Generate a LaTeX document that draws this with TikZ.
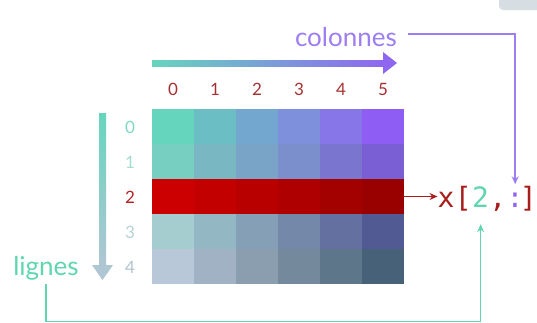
\documentclass[tikz,border=0pt]{standalone}
\usepackage{fontspec}
\setmainfont{Lato}
\newfontfamily\monof{DejaVu Sans Mono}
\usetikzlibrary{arrows.meta}
\definecolor{mint}{HTML}{66D5BE}
\definecolor{apurple}{HTML}{8E66F0}
\definecolor{lpurple}{HTML}{9D7DF2}
\definecolor{lmint}{HTML}{5FD6B0}
\definecolor{gblue}{HTML}{AFC6D3}
\definecolor{numred}{HTML}{A63030}
\definecolor{xred}{HTML}{A81C1C}
\definecolor{cornergray}{HTML}{D6DDE3}
\definecolor{c00}{HTML}{66D5BE}\definecolor{c01}{HTML}{6BBEC4}\definecolor{c02}{HTML}{74A7D0}
\definecolor{c03}{HTML}{7E8FDC}\definecolor{c04}{HTML}{8676E8}\definecolor{c05}{HTML}{8E5EF4}
\definecolor{c10}{HTML}{76CFC0}\definecolor{c11}{HTML}{79B8C3}\definecolor{c12}{HTML}{7AA3C8}
\definecolor{c13}{HTML}{7B8FCD}\definecolor{c14}{HTML}{7A76D0}\definecolor{c15}{HTML}{7A5FD4}
\definecolor{c20}{HTML}{CC0000}\definecolor{c21}{HTML}{C20000}\definecolor{c22}{HTML}{B80000}
\definecolor{c23}{HTML}{AE0000}\definecolor{c24}{HTML}{A30000}\definecolor{c25}{HTML}{990000}
\definecolor{c30}{HTML}{A5CDD0}\definecolor{c31}{HTML}{94B7C4}\definecolor{c32}{HTML}{85A0B6}
\definecolor{c33}{HTML}{7489AA}\definecolor{c34}{HTML}{6471A0}\definecolor{c35}{HTML}{525A94}
\definecolor{c40}{HTML}{B8C8D8}\definecolor{c41}{HTML}{A0B2C4}\definecolor{c42}{HTML}{8A9EB0}
\definecolor{c43}{HTML}{74899C}\definecolor{c44}{HTML}{5E7689}\definecolor{c45}{HTML}{466178}
\definecolor{r0}{HTML}{7ED8C4}\definecolor{r1}{HTML}{A3DDD0}\definecolor{r2}{HTML}{B22222}
\definecolor{r3}{HTML}{B8D0D8}\definecolor{r4}{HTML}{B0C2CE}
\tikzset{
  lab/.style={font=\fontsize{26}{28}\selectfont, inner sep=0pt},
  idx/.style={font=\fontsize{17}{19}\selectfont, inner sep=0pt, anchor=base},
  mch/.style={font=\monof\fontsize{28}{30}\selectfont, inner sep=0pt, anchor=base west},
  conn/.style={line width=1.6pt}
}
\begin{document}
\begin{tikzpicture}[x=1pt,y=-1pt]
\useasboundingbox (0,0) rectangle (537,322);
% corner shape
\fill[cornergray, rounded corners=4pt] (499,-10) rectangle (550,10);
% grid
\foreach \r in {0,...,4}{
  \foreach \c in {0,...,5}{
    \fill[c\r\c] (152+42*\c,109+35*\r) rectangle ++(42,35);
  }
}
% column indices
\foreach \c in {0,...,5}{
  \node[idx, text=numred] (col\c) at (173+42*\c,95) {\c};
}
% row indices
\foreach \r in {0,...,4}{
  \node[idx, text=r\r] (row\r) at (130,133+35*\r) {\r};
}
% top gradient arrow
\shade[left color=mint, right color=apurple] (152,60) rectangle (385,66);
\fill[apurple] (383,52) -- (397,63) -- (383,74) -- cycle;
% left gradient arrow
\shade[top color=mint, bottom color=gblue] (99,113) rectangle (106,266);
\fill[gblue] (92,265) -- (102.5,280) -- (113,265) -- cycle;
% labels
\node[lab, text=lpurple, anchor=base east] (colonnes) at (397,46) {colonnes};
\node[lab, text=lmint, anchor=base] (lignes) at (46,275) {lignes};
% expression x[2,:]
\node[mch, text=xred] (e1) at (437.5,207) {x};
\node[mch, text=xred] (e2) at (e1.base east) {[};
\node[mch, text=lmint] (e3) at (e2.base east) {2};
\node[mch, text=xred] (e4) at (e3.base east) {,};
\node[mch, text=apurple] (e5) at (e4.base east) {:};
\node[mch, text=xred] (e6) at ([xshift=-4pt]e5.base east) {]};
% connectors
\coordinate (r2e) at (404,196.5);
\coordinate (bot) at (0,321.5);
\draw[conn, xred, -{Stealth[length=8pt,width=7pt]}] (r2e) -- (r2e -| e1.west);
\draw[conn, lpurple, -{Stealth[length=8pt,width=7pt]}]
  ([shift={(11pt,12pt)}]colonnes.base east) -| ([yshift=8pt]e5.north);
\draw[conn, lmint, -{Stealth[length=8pt,width=7pt]}]
  ([yshift=-4pt]lignes.south) -- (lignes.south |- bot) -| ([yshift=-17pt]e3.south);
\end{tikzpicture}
\end{document}
